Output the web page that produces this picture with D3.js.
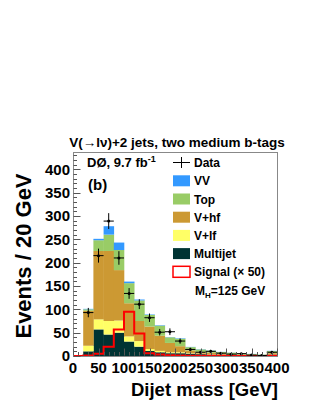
<!DOCTYPE html>
<html>
<head>
<meta charset="utf-8">
<script src="https://cdn.jsdelivr.net/npm/d3@7/dist/d3.min.js"></script>
<style>
body { margin: 0; background: #fff; }
text { font-family: "Liberation Sans", Arial, Helvetica, sans-serif; font-weight: bold; fill: #000; }
</style>
</head>
<body>
<svg id="chart" width="316" height="409"></svg>
<script>
// bin low edges, 20 GeV wide
var binLow = [0, 20, 40, 60, 80, 100, 120, 140, 160, 180, 200, 220, 240, 260, 280, 300, 320, 340, 360, 380];
var binWidth = 20;

// stacked backgrounds, bottom to top
var multijet = [0, 10, 57, 46, 50, 31, 20, 11, 8, 6, 6, 5, 4, 3, 2.5, 2, 2, 1.5, 1, 3];
var vlf      = [0, 12, 21.5, 29, 26, 11, 12, 4, 3, 2, 2, 1, 1, 1, 0.5, 0.5, 0.5, 0.3, 0.3, 0.5];
var vhf      = [0, 75, 146.5, 150, 108, 71, 43, 48, 32.5, 20, 13, 6, 3, 3, 2, 1.5, 1, 1.2, 0.7, 2.5];
var topq     = [0, 3, 23, 35, 43, 43, 44, 25, 21.5, 12, 16, 7, 6, 4.5, 3.5, 3, 2.2, 1.3, 1, 4.5];
var vv       = [0, 1, 3, 18, 16, 3.4, 2, 1, 1, 0.5, 1, 0.5, 0.5, 0.5, 0.3, 0.3, 0.3, 0.2, 0.2, 0.5];

// signal x 50
var signal = [0, 1, 5, 20, 57, 95, 48, 6, 3, 1.5, 1, 0.5, 0.5, 0.3, 0.3, 0.2, 0.2, 0.1, 0.1, 0.4];

// data and its errors
var dataVals = [null, 93, 215, 289, 210, 134, 111, 82, 51, 52, 32, 14, 8, 10, 6, 4, 5, 2, 1, 8];
var dataErr  = [0, 10, 15, 17, 14.5, 11.5, 10.5, 9, 7, 7.2, 5.7, 3.7, 2.8, 3.2, 2.4, 2, 2.2, 1.4, 1, 2.8];

var xTicks = [0, 50, 100, 150, 200, 250, 300, 350, 400];
var yTicks = [0, 50, 100, 150, 200, 250, 300, 350, 400];

var components = [
    { name: "Multijet", values: multijet, color: "#003333" },
    { name: "V+lf", values: vlf, color: "#ffff66" },
    { name: "V+hf", values: vhf, color: "#cc9933" },
    { name: "Top", values: topq, color: "#99cc66" },
    { name: "VV", values: vv, color: "#3399ff" }
];

var svg = d3.select("#chart");
var x = d3.scaleLinear().domain([0, 400]).range([73, 277]);
var y = d3.scaleLinear().domain([0, 437]).range([356, 152]);

// stack
var rows = binLow.map(function (lo, i) {
    var r = { lo: lo };
    components.forEach(function (c) { r[c.name] = c.values[i]; });
    return r;
});
var stack = d3.stack().keys(components.map(function (c) { return c.name; }));
var layers = stack(rows);

var plot = svg.append("g");
layers.forEach(function (layer, k) {
    plot.append("g")
        .attr("fill", components[k].color)
        .selectAll("rect")
        .data(layer)
        .enter().append("rect")
        .attr("x", function (d) { return x(d.data.lo); })
        .attr("width", x(binWidth) - x(0) + 0.3)
        .attr("y", function (d) { return y(d[1]); })
        .attr("height", function (d) { return Math.max(0, y(d[0]) - y(d[1])); });
});

// signal outline
var sigPath = d3.path();
sigPath.moveTo(x(0), y(signal[0]));
binLow.forEach(function (lo, i) {
    sigPath.lineTo(x(lo), y(signal[i]));
    sigPath.lineTo(x(lo + binWidth), y(signal[i]));
});
plot.append("path")
    .attr("d", sigPath.toString())
    .attr("fill", "none")
    .attr("stroke", "#ff0000")
    .attr("stroke-width", 2);

// data points
var pts = binLow.map(function (lo, i) {
    return { lo: lo, v: dataVals[i], e: dataErr[i] };
}).filter(function (d) { return d.v !== null; });
var dg = plot.append("g").attr("stroke", "#000").attr("stroke-width", 1);
dg.selectAll(".hbar").data(pts).enter().append("line")
    .attr("x1", function (d) { return x(d.lo); })
    .attr("x2", function (d) { return x(d.lo + binWidth); })
    .attr("y1", function (d) { return y(d.v); })
    .attr("y2", function (d) { return y(d.v); });
dg.selectAll(".vbar").data(pts).enter().append("line")
    .attr("x1", function (d) { return x(d.lo + binWidth / 2); })
    .attr("x2", function (d) { return x(d.lo + binWidth / 2); })
    .attr("y1", function (d) { return y(d.v + d.e); })
    .attr("y2", function (d) { return y(Math.max(0, d.v - d.e)); });
plot.append("g").selectAll("circle").data(pts).enter().append("circle")
    .attr("cx", function (d) { return x(d.lo + binWidth / 2); })
    .attr("cy", function (d) { return y(d.v); })
    .attr("r", 1.5)
    .attr("fill", "#000");

// frame
svg.append("rect")
    .attr("x", 73.5).attr("y", 152.5)
    .attr("width", 277 - 73).attr("height", 356 - 152)
    .attr("fill", "none").attr("stroke", "#888").attr("stroke-width", 1);

// ticks
var tk = svg.append("g").attr("stroke", "#555").attr("stroke-width", 1);
d3.range(0, 437, 10).forEach(function (v) {
    var len = v % 50 === 0 ? 7 : 3.5;
    tk.append("line").attr("x1", 73.5).attr("x2", 73.5 + len)
        .attr("y1", Math.round(y(v)) + 0.5).attr("y2", Math.round(y(v)) + 0.5);
});
d3.range(0, 401, 10).forEach(function (v) {
    var len = v % 50 === 0 ? 7 : 3.5;
    tk.append("line").attr("y1", 355.5).attr("y2", 355.5 - len)
        .attr("x1", Math.round(x(v)) + 0.5).attr("x2", Math.round(x(v)) + 0.5);
});

// tick labels
svg.append("g").selectAll("text").data(yTicks).enter().append("text")
    .attr("x", 70).attr("y", function (d) { return y(d); })
    .attr("dy", "0.36em")
    .attr("text-anchor", "end")
    .style("font-size", "15px")
    .text(function (d) { return d; });
svg.append("g").selectAll("text").data(xTicks).enter().append("text")
    .attr("x", function (d) { return x(d); }).attr("y", 373)
    .attr("text-anchor", "middle")
    .style("font-size", "15px")
    .text(function (d) { return d; });

// axis titles
svg.append("text")
    .attr("transform", "translate(31,256) rotate(-90)")
    .attr("text-anchor", "middle")
    .style("font-size", "22px")
    .text("Events / 20 GeV");
svg.append("text")
    .attr("x", 278).attr("y", 396)
    .attr("text-anchor", "end")
    .style("font-size", "18.5px")
    .text("Dijet mass [GeV]");

// title
svg.append("text")
    .attr("x", 177).attr("y", 147)
    .attr("text-anchor", "middle")
    .style("font-size", "13.5px")
    .text("V(\u2192l\u03bd)+2 jets, two medium b-tags");

var lab = svg.append("text").attr("x", 87).attr("y", 167).style("font-size", "13px");
lab.append("tspan").text("D\u00d8, 9.7 fb");
lab.append("tspan").attr("dy", -5).style("font-size", "9px").text("-1");
svg.append("text").attr("x", 88).attr("y", 190).style("font-size", "15px").text("(b)");

// legend
var lx = 173, lw = 17, tx = 194;
var leg = svg.append("g");
leg.append("line").attr("x1", lx).attr("x2", lx + lw).attr("y1", 162.5).attr("y2", 162.5).attr("stroke", "#000");
leg.append("line").attr("x1", lx + lw / 2).attr("x2", lx + lw / 2).attr("y1", 157).attr("y2", 168).attr("stroke", "#000");
leg.append("text").attr("x", tx).attr("y", 167).style("font-size", "12px").text("Data");

var legItems = components.slice().reverse().map(function (c) {
    return { name: c.name, color: c.color, stroke: "none" };
});
legItems.push({ name: "Signal (\u00d7 50)", color: "#fff", stroke: "#ff0000" });
legItems.forEach(function (d, i) {
    var cy = 180.8 + i * 18.2;
    leg.append("rect")
        .attr("x", lx).attr("y", cy - 5.5)
        .attr("width", lw).attr("height", 11)
        .attr("fill", d.color)
        .attr("stroke", d.stroke).attr("stroke-width", 1.5);
    leg.append("text").attr("x", tx).attr("y", cy + 4.5)
        .style("font-size", "12px").text(d.name);
});
var mh = leg.append("text").attr("x", 195).attr("y", 295).style("font-size", "12px");
mh.append("tspan").text("M");
mh.append("tspan").attr("dy", 3).style("font-size", "8px").text("H");
mh.append("tspan").attr("dy", -3).text("=125 GeV");
</script>
</body>
</html>
